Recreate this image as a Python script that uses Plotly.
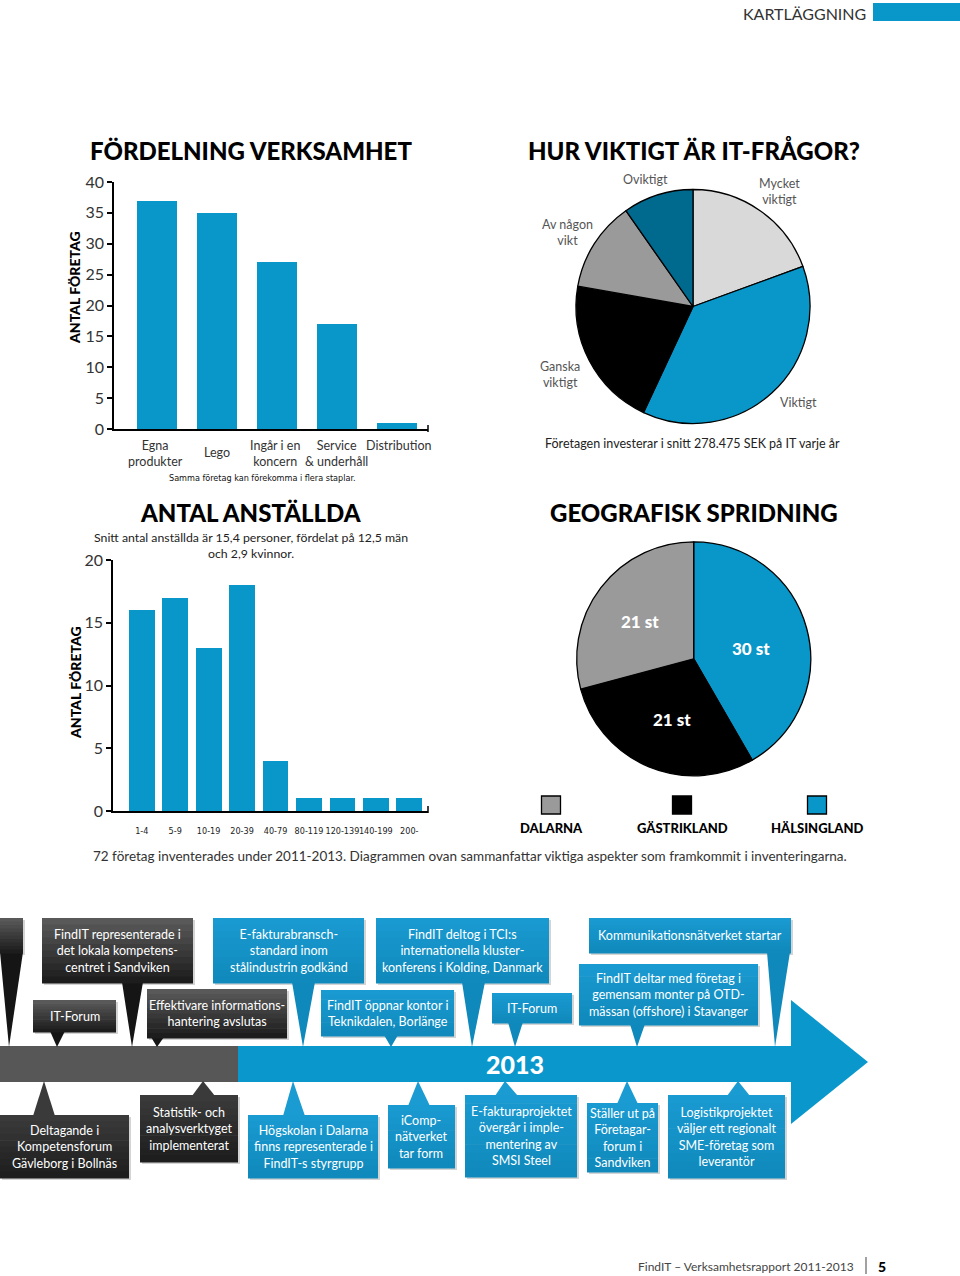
import plotly.graph_objects as go

W, H = 960, 1276

# ---------------- data ----------------
verk_cats = ["Egna produkter", "Lego", "Ingår i en koncern", "Service & underhåll", "Distribution"]
verk_ticktext = ["Egna<br>produkter", "Lego", "Ingår i en<br>koncern", "Service<br>& underhåll", "Distribution"]
verk_values = [37, 35, 27, 17, 1]

it_labels = ["Mycket viktigt", "Viktigt", "Ganska viktigt", "Av någon vikt", "Oviktigt"]
it_display = ["Mycket<br>viktigt", "Viktigt", "Ganska<br>viktigt", "Av någon<br>vikt", "Oviktigt"]
it_values = [14, 27, 15, 9, 7]

anst_cats = ["1-4", "5-9", "10-19", "20-39", "40-79", "80-119", "120-139", "140-199", "200-"]
anst_values = [16, 17, 13, 18, 4, 1, 1, 1, 1]

geo_labels = ["Hälsingland", "Gästrikland", "Dalarna"]
geo_values = [30, 21, 21]

timeline_top_texts = [
    "",
    "FindIT representerade i<br>det lokala kompetens-<br>centret i Sandviken",
    "IT-Forum",
    "Effektivare informations-<br>hantering avslutas",
    "E-fakturabransch-<br>standard inom<br>stålindustrin godkänd",
    "FindIT öppnar kontor i<br>Teknikdalen, Borlänge",
    "FindIT deltog i TCI:s<br>internationella kluster-<br>konferens i Kolding, Danmark",
    "IT-Forum",
    "Kommunikationsnätverket startar",
    "FindIT deltar med företag i<br>gemensam monter på OTD-<br>mässan (offshore) i Stavanger",
]
timeline_bottom_texts = [
    "Deltagande i<br>Kompetensforum<br>Gävleborg i Bollnäs",
    "Statistik- och<br>analysverktyget<br>implementerat",
    "Högskolan i Dalarna<br>finns representerade i<br>FindIT-s styrgrupp",
    "iComp-<br>nätverket<br>tar form",
    "E-fakturaprojektet<br>övergår i imple-<br>mentering av<br>SMSI Steel",
    "Ställer ut på<br>Företagar-<br>forum i<br>Sandviken",
    "Logistikprojektet<br>väljer ett regionalt<br>SME-företag som<br>leverantör",
]
timeline_year = "2013"

# ---------------- styles / layout geometry ----------------
BLUE = "#0996c8"
BAND_BLUE = "#0a98cc"
BOX_TOP, BOX_BOT = "#1a9bd1", "#0f88bb"
DARKTEAL = "#00698e"
LGRAY = "#d9d9d9"
MGRAY = "#9a9a9a"
BODY = "Lato, 'Open Sans', sans-serif"
NARROW = "'Liberation Sans Narrow', 'DejaVu Sans Condensed', sans-serif"
TITLE = "Lato, 'DejaVu Sans', sans-serif"


def X(x):
    return x / W


def Y(y):
    return 1 - y / H


annotations = []
shapes = []


def ann(text, x, y, size=13, color="#333", xanchor="center", yanchor="middle",
        family=BODY, weight=None, angle=0, align="center", xref="paper"):
    f = dict(family=family, size=size, color=color)
    if weight is not None:
        f["weight"] = weight
    annotations.append(dict(
        text=text, x=(x if xref != "paper" else X(x)), y=Y(y), xref=xref, yref="paper",
        showarrow=False, xanchor=xanchor, yanchor=yanchor, font=f, textangle=angle,
        align=align))


def rect(x0, y0, x1, y1, color, line=None):
    shapes.append(dict(type="rect", xref="paper", yref="paper",
                       x0=X(x0), x1=X(x1), y0=Y(y1), y1=Y(y0),
                       fillcolor=color, line=dict(width=0) if line is None else line,
                       layer="above"))


def poly(points, color):
    d = "M " + " L ".join(f"{X(px):.5f},{Y(py):.5f}" for px, py in points) + " Z"
    shapes.append(dict(type="path", xref="paper", yref="paper", path=d,
                       fillcolor=color, line=dict(width=0), layer="above"))


def hline(x0, y0, x1, y1, color="#000", width=1.5):
    shapes.append(dict(type="line", xref="paper", yref="paper",
                       x0=X(x0), x1=X(x1), y0=Y(y0), y1=Y(y1),
                       line=dict(color=color, width=width), layer="above"))


def mix(c1, c2, t):
    a = [int(c1[i:i + 2], 16) for i in (1, 3, 5)]
    b = [int(c2[i:i + 2], 16) for i in (1, 3, 5)]
    return "#" + "".join(f"{round(a[k] + (b[k] - a[k]) * t):02x}" for k in range(3))


def grad_rect(x0, y0, x1, y1, ctop, cbot, n=10):
    hgt = (y1 - y0) / n
    for i in range(n):
        rect(x0, y0 + i * hgt, x1, y0 + (i + 1) * hgt + 0.6, mix(ctop, cbot, (i + 0.5) / n))


fig = go.Figure()

# ---------------- chart 1: Fördelning verksamhet ----------------
fig.add_trace(go.Bar(x=verk_cats, y=verk_values, marker=dict(color=BLUE, line=dict(width=0)),
                     width=0.667, xaxis="x", yaxis="y", hoverinfo="skip"))

# ---------------- chart 3: Antal anställda ----------------
fig.add_trace(go.Bar(x=anst_cats, y=anst_values, marker=dict(color=BLUE, line=dict(width=0)),
                     width=0.77, xaxis="x2", yaxis="y2", hoverinfo="skip"))

# ---------------- chart 2: pie IT ----------------
cx, cy, r = 693, 306.5, 117
fig.add_trace(go.Pie(labels=it_labels, values=it_values, sort=False, direction="clockwise",
                     rotation=0, textinfo="none", hoverinfo="skip",
                     marker=dict(colors=[LGRAY, BLUE, "#000000", MGRAY, DARKTEAL],
                                 line=dict(color="#000", width=1.3)),
                     domain=dict(x=[X(cx - r), X(cx + r)], y=[Y(cy + r), Y(cy - r)])))

# ---------------- chart 4: pie geo ----------------
gx, gy, gr = 693.7, 658.8, 117
fig.add_trace(go.Pie(labels=geo_labels, values=geo_values, sort=False, direction="clockwise",
                     rotation=0, textinfo="none", hoverinfo="skip",
                     marker=dict(colors=[BLUE, "#000000", MGRAY], line=dict(color="#000", width=1.3)),
                     domain=dict(x=[X(gx - gr), X(gx + gr)], y=[Y(gy + gr), Y(gy - gr)])))

# ---------------- titles ----------------
ann("FÖRDELNING VERKSAMHET", 251, 150, size=24, color="#000", family=TITLE, weight=900)
ann("HUR VIKTIGT ÄR IT-FRÅGOR?", 694, 150, size=24, color="#000", family=TITLE, weight=900)
ann("ANTAL ANSTÄLLDA", 251, 512, size=24, color="#000", family=TITLE, weight=900)
ann("GEOGRAFISK SPRIDNING", 694, 512, size=24, color="#000", family=TITLE, weight=900)

# axis titles
ann("ANTAL FÖRETAG", 74, 288, size=14, color="#000", family=TITLE, weight=900, angle=-90)
ann("ANTAL FÖRETAG", 75, 683, size=14, color="#000", family=TITLE, weight=900, angle=-90)

# chart 1 category labels
valign = ["top", "middle", "top", "top", "top"]
ylab = [444, 453, 444, 444, 444]
xoff = [-0.03, 0, -0.03, 0, 0.03]
for i, t in enumerate(verk_ticktext):
    annotations.append(dict(text=t, x=i + xoff[i], xref="x", y=Y(ylab[i] - (0 if valign[i] == "middle" else 8)),
                            yref="paper", showarrow=False, xanchor="center",
                            yanchor=valign[i], align="center",
                            font=dict(family=BODY, size=12.5, color="#333")))
ann("Samma företag kan förekomma i flera staplar.", 262, 478, size=9, color="#111", family=NARROW)

# chart 2 labels
lab_pos = [(779, 191), (798, 402), (560, 374), (567, 232), (645, 180)]
for t, (lx, ly) in zip(it_display, lab_pos):
    ann(t, lx, ly, size=12.5, color="#555")
ann("Företagen investerar i snitt 278.475 SEK på IT varje år", 692, 444, size=12.5, color="#222")

# chart 3 subtitle
ann("Snitt antal anställda är 15,4 personer, fördelat på 12,5 män<br>och 2,9 kvinnor.",
    251, 545, size=12.3, color="#222")

# chart 4 labels
geo_pos = [(751, 648), (672, 720), (640, 622)]
for v, (lx, ly) in zip(geo_values, geo_pos):
    ann(f"{v} st", lx, ly, size=17, color="#fff", family=TITLE, weight=900)

legend_x = [551, 682, 817]
legend_cols = [MGRAY, "#000000", BLUE]
legend_names = ["DALARNA", "GÄSTRIKLAND", "HÄLSINGLAND"]
for lx, c, nm in zip(legend_x, legend_cols, legend_names):
    rect(lx - 9.5, 796, lx + 9.5, 814, c, line=dict(color="#000", width=1.3))
    ann(nm, lx, 828, size=13, color="#000", family=TITLE, weight=900)

ann("72 företag inventerades under 2011-2013. Diagrammen ovan sammanfattar viktiga aspekter som framkommit i inventeringarna.",
    470, 856, size=13.5, color="#333")

# small end ticks on x axes
hline(428, 425, 428, 432)
hline(428, 806, 428, 813)

# ---------------- header / footer ----------------
ann("KARTLÄGGNING", 868, 13, size=16, color="#333", xanchor="right")
rect(873, 3, 960, 21, BLUE)
ann("FindIT – Verksamhetsrapport 2011-2013", 856, 1266, size=12, color="#444", xanchor="right")
hline(866, 1257, 866, 1274, color="#444", width=1)
ann("5", 876, 1266, size=14, color="#000", family=TITLE, weight=900, xanchor="left")

# ---------------- timeline ----------------
DARK_TOP, DARK_BOT = "#5c5c5c", "#1a1a1a"
top_geom = [
    # box x0, y0, x1, y1, base x0, base x1, tip x, dark?
    (0, 918, 23, 953, 0, 23, 9, True),
    (42, 918, 193, 983, 122, 143, 132, True),
    (33, 1000, 116, 1032, 50, 65, 57, True),
    (147, 989, 287, 1038, 151, 164, 157, True),
    (213, 918, 364, 983, 292, 315, 303, False),
    (321, 990, 454, 1036, 384, 398, 391, False),
    (376, 918, 549, 983, 462, 485, 472, False),
    (492, 993, 572, 1023, 508, 523, 515, False),
    (589, 918, 791, 953, 767, 790, 775, False),
    (579, 964, 758, 1025, 630, 645, 637, False),
]
bot_geom = [
    (0, 1115, 129, 1178, 33, 55, 44, True),
    (140, 1095, 238, 1162, 192, 215, 203, True),
    (248, 1115, 378, 1178, 283, 305, 293, False),
    (388, 1105, 455, 1168, 408, 430, 418, False),
    (465, 1095, 577, 1177, 495, 518, 505, False),
    (587, 1103, 658, 1172, 617, 638, 627, False),
    (668, 1095, 785, 1178, 727, 750, 738, False),
]
BAND_T, BAND_B = 1046, 1082

# band and arrow
rect(0, BAND_T, 238, BAND_B, "#575757")
rect(238, BAND_T, 792, BAND_B, BAND_BLUE)
poly([(791, 1000), (868, 1062), (791, 1124)], BAND_BLUE)

for (x0, y0, x1, y1, b0, b1, tx, dark), txt in zip(top_geom, timeline_top_texts):
    rect(x0 + 2, y0 + 2, x1 + 2, y1 + 2, "#d4d4d4")
    if dark:
        poly([(b0, y1 - 1), (b1, y1 - 1), (tx, BAND_T + 1)], "#151515")
        grad_rect(x0, y0, x1, y1, DARK_TOP, DARK_BOT)
    else:
        poly([(b0, y1 - 1), (b1, y1 - 1), (tx, BAND_T + 1)], BOX_BOT)
        grad_rect(x0, y0, x1, y1, BOX_TOP, BOX_BOT)
    if txt:
        ann(txt, (x0 + x1) / 2, (y0 + y1) / 2, size=12.5, color="#fff")

for (x0, y0, x1, y1, b0, b1, tx, dark), txt in zip(bot_geom, timeline_bottom_texts):
    rect(x0 + 2, y0 + 2, x1 + 2, y1 + 2, "#d4d4d4")
    if dark:
        poly([(b0, y0 + 1), (b1, y0 + 1), (tx, BAND_B - 1)], "#3a3a3a")
        grad_rect(x0, y0, x1, y1, "#3c3c3c", "#1c1c1c")
    else:
        poly([(b0, y0 + 1), (b1, y0 + 1), (tx, BAND_B - 1)], BOX_TOP)
        grad_rect(x0, y0, x1, y1, BOX_TOP, BOX_BOT)
    ann(txt, (x0 + x1) / 2, (y0 + y1) / 2, size=12.5, color="#fff")

ann(timeline_year, 515, 1064, size=25, color="#fff", family=TITLE, weight=900)

# ---------------- axes ----------------
axis_common = dict(showgrid=False, zeroline=False, showline=True, linecolor="#000", linewidth=1.5,
                   fixedrange=True, automargin=False)
fig.update_layout(
    width=W, height=H, autosize=False,
    margin=dict(l=0, r=0, t=0, b=0, pad=0),
    paper_bgcolor="#fff", plot_bgcolor="rgba(0,0,0,0)",
    showlegend=False, bargap=0,
    xaxis=dict(domain=[X(114), X(428)], range=[-0.717, 4.52], type="category",
               showticklabels=False, ticks="", anchor="y", **axis_common),
    yaxis=dict(domain=[Y(429), Y(182)], range=[0, 40], tickvals=[0, 5, 10, 15, 20, 25, 30, 35, 40],
               ticks="outside", ticklen=5, tickwidth=1.5, tickcolor="#000",
               tickfont=dict(family=BODY, size=16, color="#333"), anchor="x", **axis_common),
    xaxis2=dict(domain=[X(113), X(428)], range=[-0.86, 8.56], type="category",
                ticks="", tickangle=0, tickfont=dict(family=NARROW, size=9, color="#222"),
                ticklabelstandoff=10, anchor="y2", **axis_common),
    yaxis2=dict(domain=[Y(811), Y(560)], range=[0, 20], tickvals=[0, 5, 10, 15, 20],
                ticks="outside", ticklen=5, tickwidth=1.5, tickcolor="#000",
                tickfont=dict(family=BODY, size=16, color="#333"), anchor="x2", **axis_common),
    annotations=annotations,
    shapes=shapes,
)

fig.write_html("out.html", post_script="document.body.style.margin='0px';document.documentElement.style.overflow='hidden';")
